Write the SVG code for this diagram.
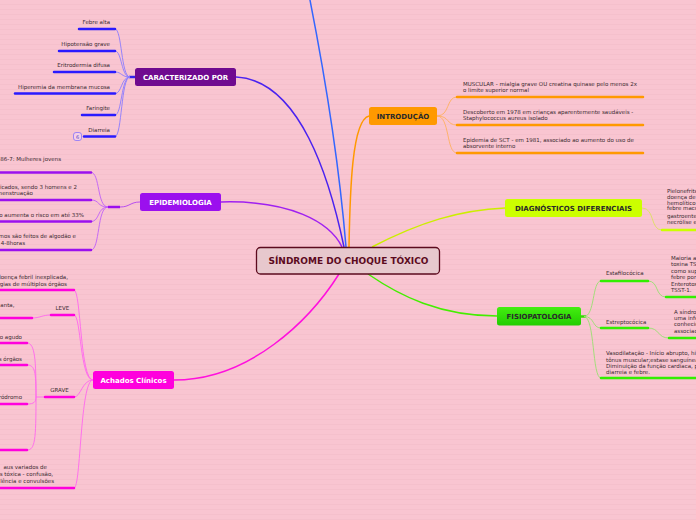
<svg xmlns="http://www.w3.org/2000/svg" width="696" height="520" viewBox="0 0 696 520">
<defs>
<pattern id="bg" width="10" height="5" patternUnits="userSpaceOnUse">
<rect width="10" height="5" fill="#f9c5d1"/>
<rect y="4" width="10" height="1" fill="#f5c0cc"/>
</pattern>
<linearGradient id="gFis" x1="0" y1="0" x2="0" y2="1">
<stop offset="0" stop-color="#44ee11"/><stop offset="1" stop-color="#22cc00"/>
</linearGradient>
</defs>
<style>
.t{font-family:"DejaVu Sans",Verdana,sans-serif;font-size:5.5px;fill:#3a2a30}
.e{text-anchor:end}
.n{font-family:"DejaVu Sans",Verdana,sans-serif;font-size:7px;font-weight:bold;text-anchor:middle}
.w{fill:#ffffff}
.d{fill:#2a2a2a}
.m{fill:none;stroke-width:1.5}
.c{fill:none;stroke-width:0.9}
.u{fill:none;stroke-width:2.5;stroke-linecap:round}
</style>
<rect width="696" height="520" fill="url(#bg)"/>

<g id="connectors">
<path class="m" stroke="#3366ff" d="M346,247 C338,150 322,60 308,-10"/>
<path class="m" stroke="#4a22f0" d="M236,77 C300,80 330,180 344,247"/>
<path class="m" stroke="#a020f0" d="M221,202 C290,200 330,222 342,247"/>
<path class="m" stroke="#ff9900" d="M369,116 C352,120 350,190 349,247"/>
<path class="m" stroke="#ccee00" d="M372,247 C420,222 460,210 505,208"/>
<path class="m" stroke="#44ee00" d="M368,274 C400,296 440,316 497,316"/>
<path class="m" stroke="#ff10dd" d="M339,274 C310,320 250,380 174,380"/>

<path d="M129,77 L135,77" stroke="#3322ee" stroke-width="2.5"/>
<g class="c" stroke="#8a7aff">
<path d="M130,77 C121,77 122,29 115,29"/>
<path d="M130,77 C121,77 122,51 115,51"/>
<path d="M130,77 C121,77 122,72 115,72"/>
<path d="M130,77 C121,77 122,93.5 115,93.5"/>
<path d="M130,77 C121,77 122,115 115,115"/>
<path d="M130,77 C121,77 122,136.5 115,136.5"/>
</g>
<g class="u" stroke="#2a1aff">
<path d="M79,29 L115,29"/>
<path d="M59,51 L115,51"/>
<path d="M54,72 L115,72"/>
<path d="M15,93.5 L115,93.5"/>
<path d="M82,115 L115,115"/>
<path d="M84,136.5 L115,136.5"/>
</g>

<path d="M108,207 L120,207" stroke="#9b10ee" stroke-width="2.5"/>
<path class="c" stroke="#b040f0" d="M120,207 C130,207 130,202 140,202"/>
<g class="c" stroke="#c060f8">
<path d="M108,207 C97,207 100,172.5 91,172.5"/>
<path d="M108,207 C97,207 100,200 91,200"/>
<path d="M108,207 C97,207 100,221.5 91,221.5"/>
<path d="M108,207 C97,207 100,250 91,250"/>
</g>
<g class="u" stroke="#9b10ee">
<path d="M-2,172.5 L91,172.5"/>
<path d="M-2,200 L91,200"/>
<path d="M-2,221.5 L91,221.5"/>
<path d="M-2,250 L91,250"/>
</g>

<g class="c" stroke="#ffb060">
<path d="M437,116 C450,116 446,97 457,97"/>
<path d="M437,116 C450,116 446,125 457,125"/>
<path d="M437,116 C450,116 446,153 457,153"/>
</g>
<g class="u" stroke="#ff9900">
<path d="M457,97 L643,97"/>
<path d="M457,125 L643,125"/>
<path d="M457,153 L643,153"/>
</g>

<path class="c" stroke="#dde060" d="M642,208 C655,208 650,230 662,230"/>
<path class="u" stroke="#ccff00" d="M662,230 L700,230"/>

<path d="M581,316.5 L586,316.5" stroke="#33dd00" stroke-width="2.5"/>
<g class="c" stroke="#99e070">
<path d="M584,316.5 C595,316.5 592,281 601,281"/>
<path d="M584,316.5 C595,316.5 592,328 601,328"/>
<path d="M584,316.5 C595,316.5 592,378 601,378"/>
<path d="M648,281 C659,281 655,297 666,297"/>
<path d="M648,328 C660,328 657,338 669,338"/>
</g>
<g class="u" stroke="#33ee00">
<path d="M601,281 L648,281"/>
<path d="M601,328 L648,328"/>
<path d="M601,378 L700,378"/>
<path d="M666,297 L700,297"/>
<path d="M669,338 L700,338"/>
</g>

<g class="c" stroke="#ff66ee">
<path d="M93,380 C80,380 81,290 74,290"/>
<path d="M93,380 C80,380 81,315 74,315"/>
<path d="M93,380 C82,380 81,397 74,397"/>
<path d="M93,380 C80,380 81,488 74,488"/>
<path d="M32,318 C40,318 42,315 51,315"/>
<path d="M45,397 L36,397"/>
<path d="M36,397 C36,360 35,343 27,343"/>
<path d="M36,397 C36,372 35,365 27,365"/>
<path d="M36,397 C36,402 34,404 27,404"/>
<path d="M36,397 C36,440 35,450 27,450"/>
</g>
<g class="u" stroke="#ff00dd">
<path d="M-2,290 L74,290"/>
<path d="M51,315 L74,315"/>
<path d="M-2,318 L32,318"/>
<path d="M45,397 L74,397"/>
<path d="M-2,343 L27,343"/>
<path d="M-2,365 L27,365"/>
<path d="M-2,404 L27,404"/>
<path d="M-2,450 L27,450"/>
<path d="M-2,488 L74,488"/>
</g>
</g>

<g id="center">
<rect x="256.5" y="247.5" width="183" height="26.5" rx="4" fill="#e7c8cd" stroke="#5c0a1e" stroke-width="1.3"/>
<text x="348.5" y="264.3" font-family="DejaVu Sans,Verdana,sans-serif" font-size="9" font-weight="bold" fill="#5c0a1e" text-anchor="middle">SÍNDROME DO CHOQUE TÓXICO</text>
</g>

<g id="caracterizado">
<rect x="135" y="68" width="101" height="18" rx="2.5" fill="#6f0a8f"/>
<text class="n w" x="185.5" y="79.7">CARACTERIZADO POR</text>
<text class="t e" x="110" y="24">Febre alta</text>
<text class="t e" x="110" y="46">Hipotensão grave</text>
<text class="t e" x="110" y="67">Eritrodermia difusa</text>
<text class="t e" x="110" y="89">Hiperemia da membrana mucosa</text>
<text class="t e" x="110" y="110">Faringite</text>
<text class="t e" x="110" y="132">Diarreia</text>
<rect x="73.5" y="132.5" width="8" height="8" rx="2.5" fill="#f6d0e6" stroke="#7766ff" stroke-width="0.7"/>
<text x="77.5" y="138.5" font-family="DejaVu Sans,sans-serif" font-size="5" fill="#5544cc" text-anchor="middle">6</text>
</g>

<g id="epidemiologia">
<rect x="140" y="193" width="81" height="18" rx="2.5" fill="#9b10ee"/>
<text class="n w" x="180.5" y="204.6">EPIDEMIOLOGIA</text>
<text class="t e" x="61" y="161">86-7: Mulheres jovens</text>
<text class="t e" x="77" y="188.7">icados, sendo 3 homens e 2</text>
<text class="t e" x="33" y="194.7">menstruação</text>
<text class="t e" x="84" y="217.3">o aumenta o risco em até 33%</text>
<text class="t e" x="76" y="237.7">mos são feitos de algodão e</text>
<text class="t e" x="25" y="245.3">re 4-8horas</text>
</g>

<g id="introducao">
<rect x="369" y="107" width="68" height="18" rx="2.5" fill="#ff9900"/>
<text class="n d" x="403" y="118.6">INTRODUÇÃO</text>
<text class="t" x="463" y="86.3">MUSCULAR - mialgia grave OU creatina quinase pelo menos 2x</text>
<text class="t" x="463" y="92">o limite superior normal</text>
<text class="t" x="463" y="114.3">Descoberto em 1978 em crianças aparentemente saudáveis -</text>
<text class="t" x="463" y="120">Staphylococcus aureus isolado</text>
<text class="t" x="463" y="142.3">Epidemia de SCT - em 1981, associado ao aumento do uso de</text>
<text class="t" x="463" y="148">absorvente interno</text>
</g>

<g id="diagnosticos">
<rect x="505" y="199" width="137" height="18" rx="2.5" fill="#ccff00"/>
<text class="n d" x="573.5" y="210.6">DIAGNÓSTICOS DIFERENCIAIS</text>
<text class="t" x="667" y="192.7">Pielonefrite,</text>
<text class="t" x="667" y="198.7">doença de Kawasaki</text>
<text class="t" x="667" y="204.5">hemolítico-urêmica</text>
<text class="t" x="667" y="210.3">febre maculosa</text>
<text class="t" x="667" y="217.7">gastroenterite</text>
<text class="t" x="667" y="223.7">necrólise epidérmica</text>
</g>

<g id="fisiopatologia">
<rect x="497" y="307" width="84" height="18.5" rx="2.5" fill="url(#gFis)"/>
<text class="n d" x="539" y="318.7">FISIOPATOLOGIA</text>
<text class="t" x="606" y="275.3">Estafilocócica</text>
<text class="t" x="606" y="323.7">Estreptocócica</text>
<text class="t" x="671" y="259.5">Maioria associada</text>
<text class="t" x="671" y="266">toxina TSST-1</text>
<text class="t" x="671" y="272.5">como superantígeno</text>
<text class="t" x="671" y="279">febre por</text>
<text class="t" x="671" y="285.5">Enterotoxinas</text>
<text class="t" x="671" y="292">TSST-1.</text>
<text class="t" x="674" y="313.5">A síndrome</text>
<text class="t" x="674" y="319.5">uma infecção</text>
<text class="t" x="674" y="325.8">conhecida</text>
<text class="t" x="674" y="332.5">associada</text>
<text class="t" x="606" y="355">Vasodilatação - Início abrupto, hipotensão</text>
<text class="t" x="606" y="361.5">tônus muscular;estase sanguínea</text>
<text class="t" x="606" y="368">Diminuição da função cardíaca, p</text>
<text class="t" x="606" y="374.3">diarreia e febre.</text>
</g>

<g id="achados">
<rect x="93" y="371" width="81" height="18" rx="2.5" fill="#ff00dd"/>
<text class="n w" x="133.5" y="382.6">Achados Clínicos</text>
<text class="t e" x="68" y="279.3">doença febril inexplicada,</text>
<text class="t e" x="67" y="285.5">gias de múltiplos órgãos</text>
<text class="t" x="62.3" y="309.7" text-anchor="middle">LEVE</text>
<text class="t e" x="14.5" y="307">anta,</text>
<text class="t" x="59.5" y="392" text-anchor="middle">GRAVE</text>
<text class="t e" x="22" y="339.3">o agudo</text>
<text class="t e" x="22" y="360.7">s órgãos</text>
<text class="t e" x="22" y="399.3">ródromo</text>
<text class="t e" x="47" y="469">aus variados de</text>
<text class="t e" x="53" y="476">s tóxica - confusão,</text>
<text class="t e" x="54" y="483">lência e convulsões</text>
</g>
</svg>
